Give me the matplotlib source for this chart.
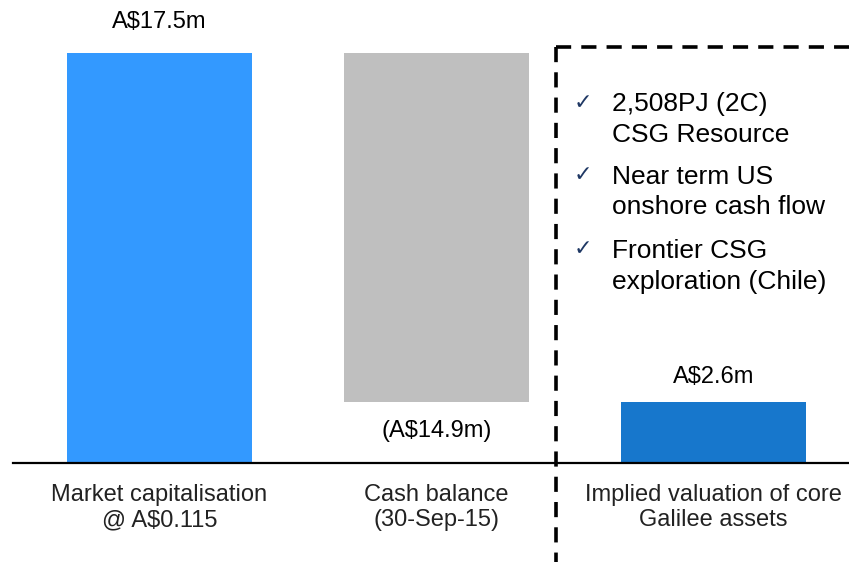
import matplotlib
matplotlib.use("Agg")
import matplotlib.pyplot as plt

plt.rcParams['font.family'] = ['Liberation Sans', 'DejaVu Sans']

# Waterfall data (A$m)
categories = ["Market capitalisation\n@ A$0.115",
              "Cash balance\n(30-Sep-15)",
              "Implied valuation of core\nGalilee assets"]
market_cap = 17.5
cash_balance = 14.9
implied_value = market_cap - cash_balance
value_labels = ["A$17.5m", "(A$14.9m)", "A$2.6m"]
highlights = ["2,508PJ (2C)\nCSG Resource",
              "Near term US\nonshore cash flow",
              "Frontier CSG\nexploration (Chile)"]

colors = ["#3399FF", "#BFBFBF", "#1777CC"]

fig = plt.figure(figsize=(8.49, 5.62), dpi=100)
ax = fig.add_axes([0, 0, 1, 1])
ax.set_xlim(-0.5758, 2.489)
ax.set_ylim(-4.225, 19.76)
ax.axis("off")

x = [0, 1, 2]
bottoms = [0, implied_value, 0]
heights = [market_cap, cash_balance, implied_value]
width = 0.668
ax.bar(x, heights, bottom=bottoms, width=width, color=colors, zorder=2)

# baseline
ax.axhline(0, xmin=13 / 849, xmax=1, color="black", lw=1.6, zorder=3)

# value labels
fs = 17
ax.annotate(value_labels[0], (x[0], market_cap), xytext=(0, 22.5),
            textcoords="offset points", ha="center", va="center", fontsize=fs)
ax.annotate(value_labels[1], (x[1], implied_value), xytext=(0, -21),
            textcoords="offset points", ha="center", va="center", fontsize=fs)
ax.annotate(value_labels[2], (x[2], implied_value), xytext=(0, 18),
            textcoords="offset points", ha="center", va="center", fontsize=fs)

# category labels
for xi, cat in zip(x, categories):
    ax.text(xi, -1.9, cat, ha="center", va="center", fontsize=fs,
            color="#222222", linespacing=1.19)

# dashed box around implied valuation
xd = 1.4314
ytop = 17.75
dash = (0, (4.2, 2.8))
ax.plot([xd, xd], [ytop, -4.3], color="black", lw=2.6, ls=dash,
        zorder=4, clip_on=False)
ax.plot([xd, 2.6], [ytop, ytop], color="black", lw=2.6, ls=dash,
        zorder=4, clip_on=False)

# highlights with check marks
y_text = [14.66, 11.57, 8.39]
y_check = [15.32, 12.25, 9.09]
for yt, yc, txt in zip(y_text, y_check, highlights):
    ax.text(1.527, yc, "\u2713", ha="center", va="center", fontsize=16,
            color="#1F3864")
    ax.text(1.6336, yt, txt, ha="left", va="center", fontsize=19,
            color="black", linespacing=1.34)

fig.savefig("out.png", dpi=100)
